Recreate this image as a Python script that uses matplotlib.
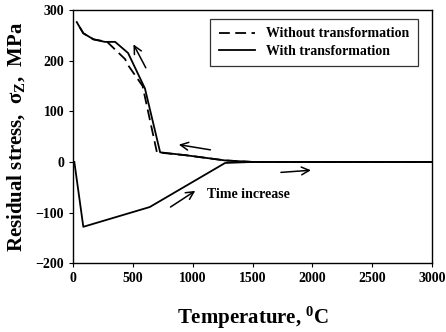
import matplotlib
matplotlib.use("Agg")
import matplotlib.pyplot as plt

plt.rcParams['font.family'] = ['Liberation Serif', 'DejaVu Serif']
plt.rcParams['font.weight'] = 'bold'
plt.rcParams['mathtext.fontset'] = 'custom'
plt.rcParams['mathtext.rm'] = 'Liberation Serif:bold'
plt.rcParams['mathtext.it'] = 'Liberation Serif:bold'
plt.rcParams['mathtext.bf'] = 'Liberation Serif:bold'

# heating path (shared), then cooling paths
heat_T = [10, 85, 640, 1270, 1500, 3000]
heat_s = [0, -128, -89, -2, 0, 0]

cool_T = [3000, 1500, 1270, 950, 727, 600, 459, 351, 265, 170, 85, 30]
with_s = [0, 0, 3, 13, 19, 145, 215, 237, 237, 242, 254, 276]

cool_T_no = [3000, 1500, 1270, 950, 700, 580, 459, 434, 284, 170, 85, 30]
without_s = [0, 0, 3, 13, 19, 150, 191, 203, 237, 242, 254, 276]

# hand-drawn direction arrows: (start, end) in data units
arrows = [((618, 181), (493, 237)),
          ((1170, 23), (860, 35)),
          ((1713, -21), (2010, -16)),
          ((794, -92), (1040, -54))]

fig = plt.figure(figsize=(4.46, 3.32), dpi=100)
ax = fig.add_axes([0.164, 0.207, 0.805, 0.763])

ax.plot(heat_T, heat_s, color='black', lw=1.3)
ax.plot(cool_T_no, without_s, color='black', lw=1.3, ls=(0, (6, 3)),
        label='Without transformation')
ax.plot(cool_T, with_s, color='black', lw=1.3, label='With transformation')

for start, end in arrows:
    ax.annotate('', xy=end, xytext=start,
                arrowprops=dict(arrowstyle='->', color='black', lw=1.1,
                                mutation_scale=14))

ax.text(1120, -65, 'Time increase', fontsize=10, fontweight='bold',
        va='center', ha='left')

ax.set_xlim(0, 3000)
ax.set_ylim(-200, 300)
ax.set_xticks(range(0, 3001, 500))
ax.set_yticks(range(-200, 301, 100))
ax.tick_params(direction='out', length=3, width=0.8, labelsize=10)
for lab in ax.get_xticklabels() + ax.get_yticklabels():
    lab.set_fontweight('bold')
for sp in ax.spines.values():
    sp.set_linewidth(1.0)

ax.set_xlabel('Temperature, $^{0}$C', fontsize=15, fontweight='bold', labelpad=14)
ax.set_ylabel(r'Residual stress,  $\sigma_{Z}$,  MPa', fontsize=15,
              fontweight='bold', labelpad=6)

leg = ax.legend(loc='upper right', bbox_to_anchor=(0.967, 0.975), fontsize=10,
                frameon=True, fancybox=False, edgecolor='black',
                handlelength=2.6, borderpad=0.6, labelspacing=0.3,
                borderaxespad=0.2)
leg.get_frame().set_linewidth(0.9)
for t in leg.get_texts():
    t.set_fontweight('bold')

fig.savefig('out.png', dpi=100)
